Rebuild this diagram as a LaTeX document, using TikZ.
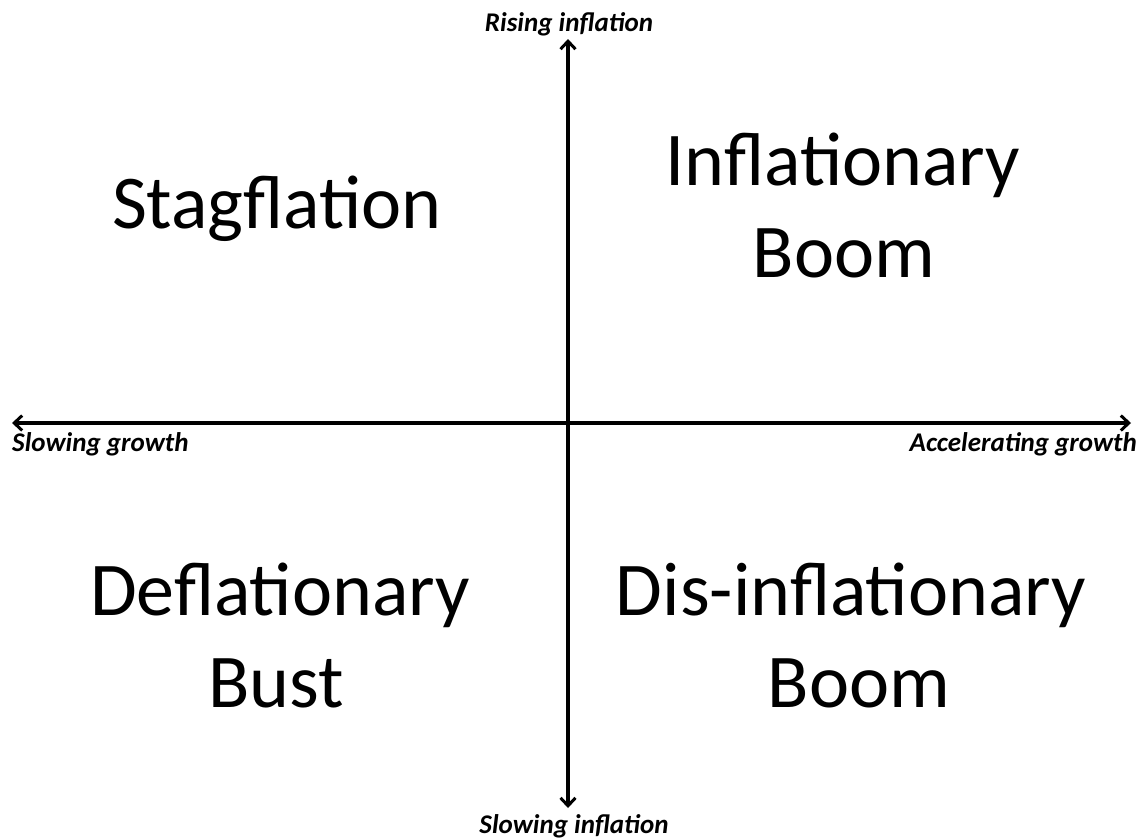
\documentclass[tikz,border=0pt]{standalone}
\usepackage{fontspec}
\setmainfont{Carlito}
\usetikzlibrary{arrows.meta}
\tikzset{
  axis/.style={line width=3.2pt, {Straight Barb[length=8pt,width=15pt,line width=3pt]}-{Straight Barb[length=8pt,width=15pt,line width=3pt]}},
  quad/.style={font=\fontsize{76}{92}\selectfont, align=center, anchor=base, inner sep=0pt},
  axlabel/.style={font=\fontsize{27}{31}\selectfont\bfseries\itshape, anchor=base, inner sep=0pt}
}
\begin{document}
\begin{tikzpicture}[x=1pt,y=-1pt]
\useasboundingbox (0,0) rectangle (1141,839);
\fill[white] (0,0) rectangle (1141,839);
\coordinate (L) at (12,423);
\coordinate (R) at (1131,423);
\coordinate (T) at (568,39);
\coordinate (B) at (568,808);
\draw[axis] (L) -- (R);
\draw[axis] (T) -- (B);
\node[axlabel] (rise) at (569,31) {Rising inflation};
\node[axlabel] (slow) at (574,833) {Slowing inflation};
\node[axlabel, anchor=base west] (sg) at (12,451) {Slowing growth};
\node[axlabel, anchor=base east] (ag) at (1137,451) {Accelerating growth};
\node[quad] (stag) at (277,228) {Stagflation};
\node[quad] (ib1) at (843,185) {Inflationary};
\node[quad] (ib2) at (844,277) {Boom};
\node[quad] (db1) at (280,615) {Deflationary};
\node[quad] (db2) at (276,707) {Bust};
\node[quad] (dib1) at (851,615) {Dis-inflationary};
\node[quad] (dib2) at (859,707) {Boom};
\end{tikzpicture}
\end{document}
